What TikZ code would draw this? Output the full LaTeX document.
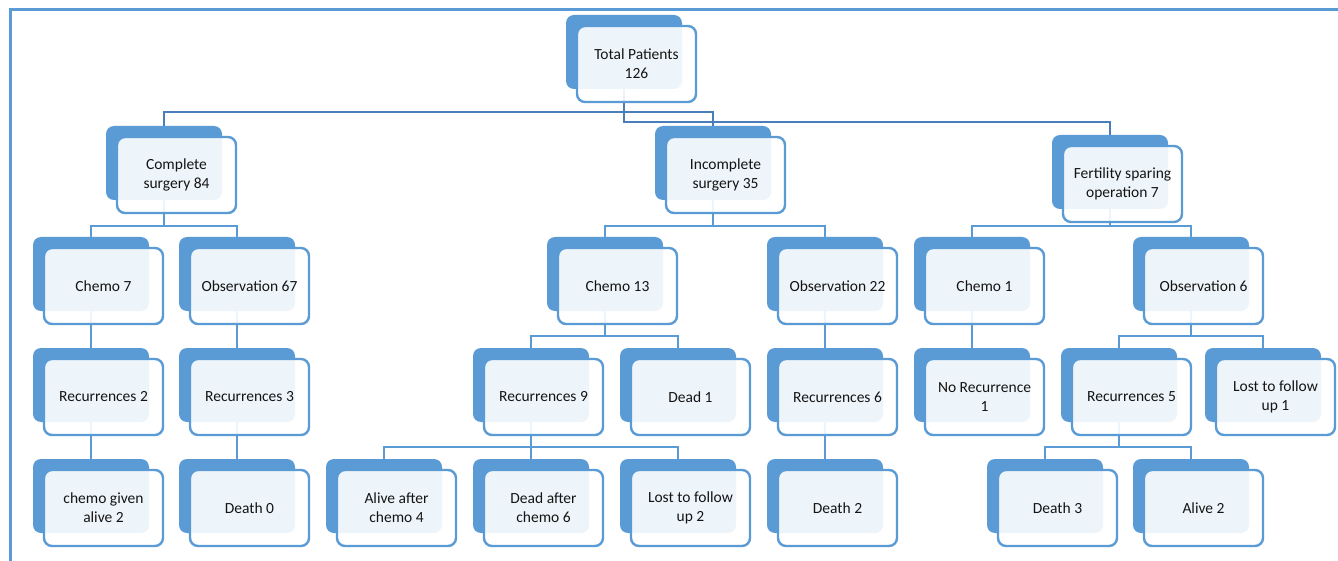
\documentclass[tikz,border=0pt]{standalone}
\usepackage{fontspec}
\setmainfont{Carlito}
\usetikzlibrary{backgrounds}
\definecolor{boxblue}{HTML}{5B9BD5}
\definecolor{linkblue}{HTML}{5B9BD5}
\definecolor{toplink}{HTML}{4A7EBA}
\definecolor{txt}{HTML}{141414}
\tikzset{
  backbox/.style={rectangle, rounded corners=8pt, fill=boxblue, draw=none,
    minimum width=116pt, minimum height=74pt, inner sep=0pt, outer sep=0pt},
  frontbox/.style={rectangle, rounded corners=8pt, draw=boxblue, line width=2.4pt,
    fill=white, fill opacity=0.9, text opacity=1, text=txt,
    minimum width=119pt, minimum height=76pt, inner sep=0pt, outer sep=0pt,
    align=center, font=\fontsize{15.5}{19}\selectfont},
  link/.style={draw=linkblue, line width=2.4pt},
  toplinkst/.style={draw=toplink, line width=2.4pt},
  frame/.style={draw=boxblue, line width=3pt}
}
\newcommand\bx[4]{%
  \node[backbox, anchor=north west] (#1B) at (#2,#3) {};
  \node[frontbox, anchor=north west] (#1) at (#2+11,#3+11) {#4};
}
\begin{document}
\begin{tikzpicture}[x=1pt,y=-1pt]
\useasboundingbox (0,0) rectangle (1338,561);
\coordinate (frTL) at (10,9.5);
\coordinate (frTR) at (1338,9.5);
\coordinate (frBL) at (10,561);
\draw[frame] (frBL) -- (frTL) -- (frTR);

% level 0
\bx{root}{566}{15}{Total Patients\\126}
% level 1
\bx{compl}{106}{126}{Complete\\surgery 84}
\bx{incompl}{655}{126}{Incomplete\\surgery 35}
\bx{fert}{1052}{135}{Fertility sparing\\operation 7}
% level 2
\bx{chemoA}{33}{237}{Chemo 7}
\bx{obsA}{179}{237}{Observation 67}
\bx{chemoB}{547}{237}{Chemo 13}
\bx{obsB}{767}{237}{Observation 22}
\bx{chemoC}{914}{237}{Chemo 1}
\bx{obsC}{1133}{237}{Observation 6}
% level 3
\bx{recA}{33}{348}{Recurrences 2}
\bx{recB}{179}{348}{Recurrences 3}
\bx{recC}{473}{348}{Recurrences 9}
\bx{deadA}{620}{348}{Dead 1}
\bx{recD}{767}{348}{Recurrences 6}
\bx{norec}{914}{348}{No Recurrence\\1}
\bx{recE}{1061}{348}{Recurrences 5}
\bx{lostA}{1205}{348}{Lost to follow\\up 1}
% level 4
\bx{chgiven}{33}{459}{chemo given\\alive 2}
\bx{deathA}{179}{459}{Death 0}
\bx{aliveA}{326}{459}{Alive after\\chemo 4}
\bx{deadB}{473}{459}{Dead after\\chemo 6}
\bx{lostB}{620}{459}{Lost to follow\\up 2}
\bx{deathB}{767}{459}{Death 2}
\bx{deathC}{987}{459}{Death 3}
\bx{aliveB}{1133}{459}{Alive 2}

\begin{pgfonlayer}{background}
\fill[white] (0,0) rectangle (1338,561);
% root connectors
\draw[toplinkst] (rootB.south) |- (fertB.north |- 0,122) -- (fertB.north);
\draw[toplinkst] (complB.north) |- (incomplB.north |- 0,112) -- (incomplB.north);
% complete surgery
\draw[link] (complB.south) -- (complB.south |- 0,226);
\draw[link] (chemoAB.north) |- (obsAB.north |- 0,226) -- (obsAB.north);
\draw[link] (chemoAB.south) -- (recAB.north);
\draw[link] (recAB.south) -- (chgivenB.north);
\draw[link] (obsAB.south) -- (recBB.north);
\draw[link] (recBB.south) -- (deathAB.north);
% incomplete surgery
\draw[link] (incomplB.south) -- (incomplB.south |- 0,226);
\draw[link] (chemoBB.north) |- (obsBB.north |- 0,226) -- (obsBB.north);
\draw[link] (chemoBB.south) -- (chemoBB.south |- 0,336);
\draw[link] (recCB.north) |- (deadAB.north |- 0,336) -- (deadAB.north);
\draw[link] (recCB.south) -- (deadBB.north);
\draw[link] (aliveAB.north) |- (lostBB.north |- 0,447) -- (lostBB.north);
\draw[link] (obsBB.south) -- (recDB.north);
\draw[link] (recDB.south) -- (deathBB.north);
% fertility sparing
\draw[link] (fertB.south) -- (fertB.south |- 0,226);
\draw[link] (chemoCB.north) |- (obsCB.north |- 0,226) -- (obsCB.north);
\draw[link] (chemoCB.south) -- (norecB.north);
\draw[link] (obsCB.south) -- (obsCB.south |- 0,336);
\draw[link] (recEB.north) |- (lostAB.north |- 0,336) -- (lostAB.north);
\draw[link] (recEB.south) -- (recEB.south |- 0,447);
\draw[link] (deathCB.north) |- (aliveBB.north |- 0,447) -- (aliveBB.north);
\end{pgfonlayer}
\end{tikzpicture}
\end{document}
